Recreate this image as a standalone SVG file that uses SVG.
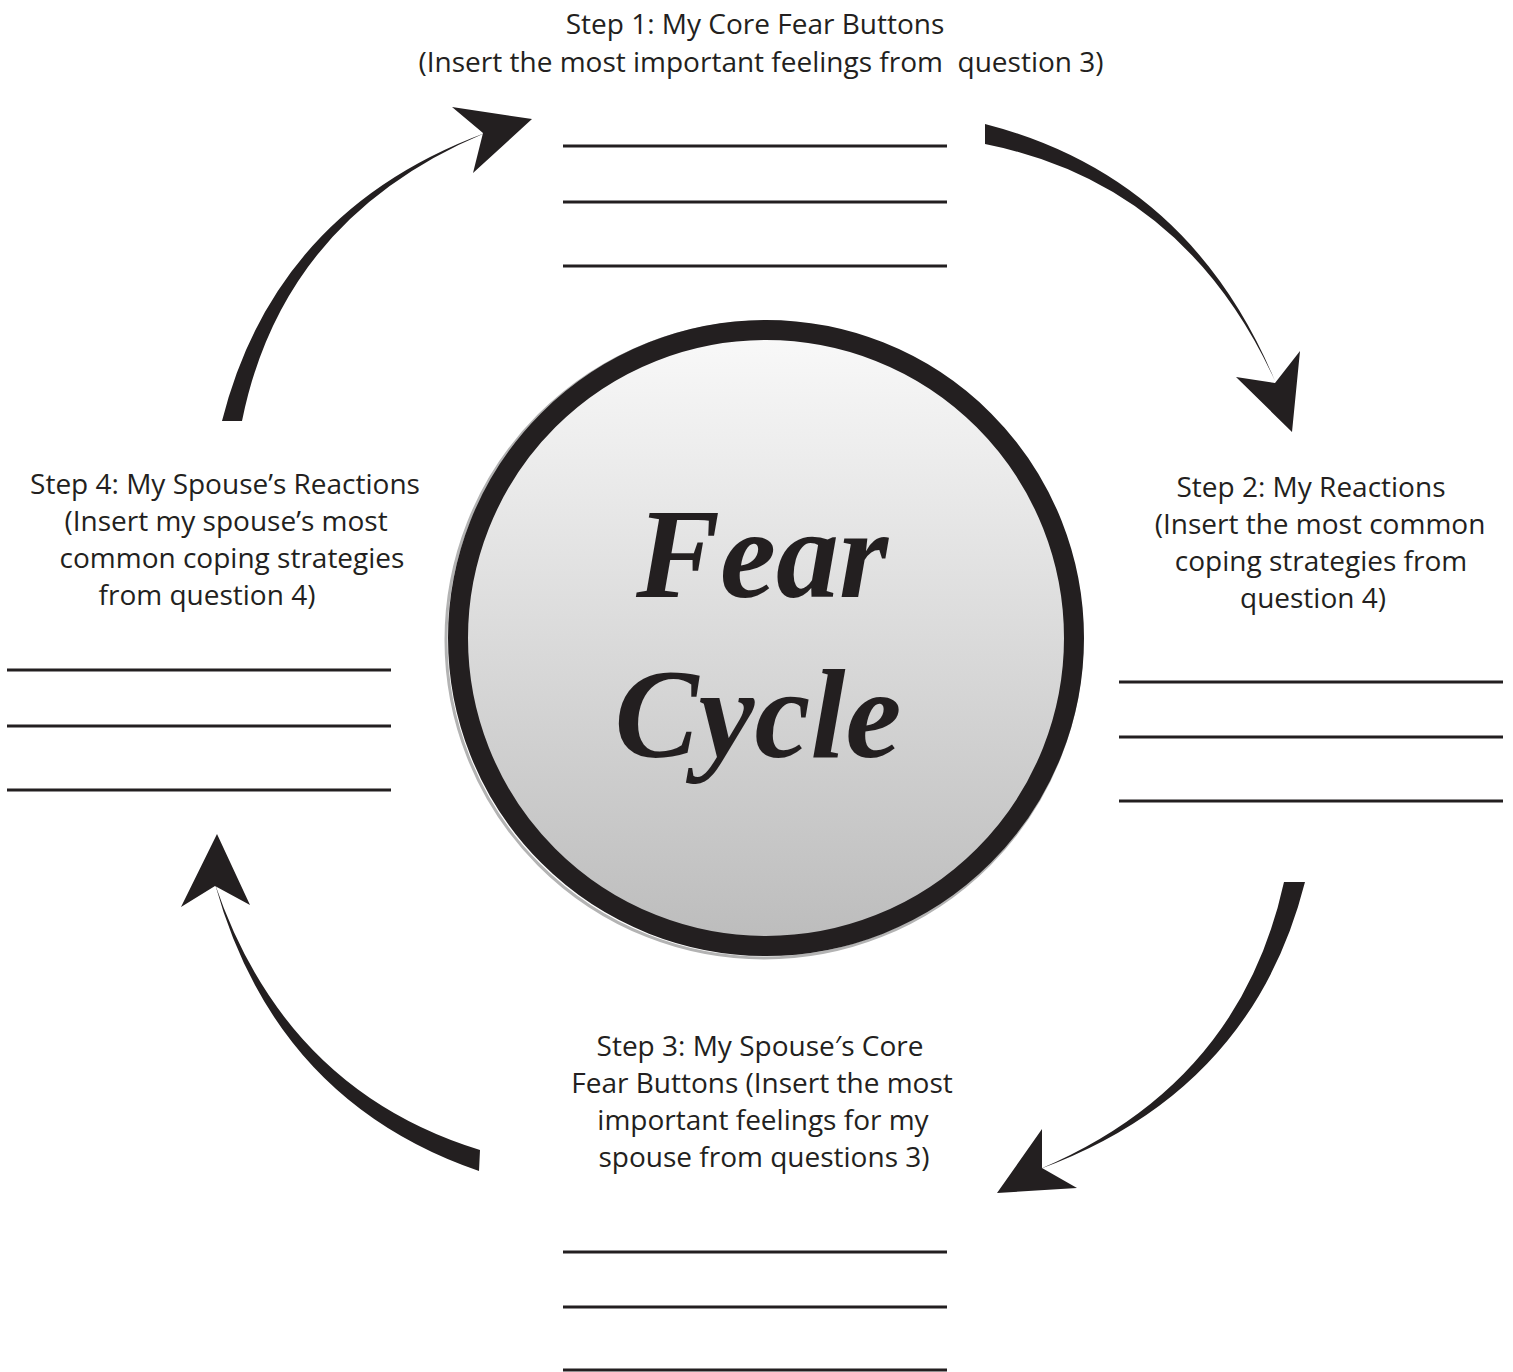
<svg xmlns="http://www.w3.org/2000/svg" width="1513" height="1372" viewBox="0 0 1513 1372">
<style>
.lbl{font-family:"Open Sans","Noto Sans","Liberation Sans",sans-serif;font-size:28px;fill:#231f20;text-anchor:middle}
.ln{stroke:#231f20;stroke-width:3;fill:none}
.arr{fill:#231f20;stroke:none}
.title{font-family:"Liberation Serif","DejaVu Serif",serif;font-style:italic;font-weight:bold;font-size:126px;fill:#231f20;text-anchor:middle}
</style>
<defs>
<linearGradient id="g" x1="0" y1="0" x2="0" y2="1">
<stop offset="0" stop-color="#f9f9f9"/>
<stop offset="1" stop-color="#bcbcbc"/>
</linearGradient>
</defs>
<rect width="1513" height="1372" fill="#ffffff"/>
<g id="center">
<circle cx="764" cy="640" r="318" fill="none" stroke="#b3b3b3" stroke-width="3"/>
<circle cx="766" cy="638" r="308" fill="url(#g)" stroke="#231f20" stroke-width="20"/>
<text class="title" x="762" y="597">Fear</text>
<text class="title" x="758" y="757">Cycle</text>
</g>
<g id="step1">
<text class="lbl" x="755" y="34">Step 1: My Core Fear Buttons</text>
<text class="lbl" x="761" y="72" xml:space="preserve">(Insert the most important feelings from  question 3)</text>
<line class="ln" x1="563" y1="146" x2="947" y2="146"/>
<line class="ln" x1="563" y1="202" x2="947" y2="202"/>
<line class="ln" x1="563" y1="266" x2="947" y2="266"/>
</g>
<g id="step2">
<text class="lbl" x="1311" y="497">Step 2: My Reactions</text>
<text class="lbl" x="1320" y="534">(Insert the most common</text>
<text class="lbl" x="1321" y="571">coping strategies from</text>
<text class="lbl" x="1313" y="608">question 4)</text>
<line class="ln" x1="1119" y1="682" x2="1503" y2="682"/>
<line class="ln" x1="1119" y1="737" x2="1503" y2="737"/>
<line class="ln" x1="1119" y1="801" x2="1503" y2="801"/>
</g>
<g id="step3">
<text class="lbl" x="760" y="1056">Step 3: My Spouse′s Core</text>
<text class="lbl" x="762" y="1093">Fear Buttons (Insert the most</text>
<text class="lbl" x="763" y="1130">important feelings for my</text>
<text class="lbl" x="764" y="1167">spouse from questions 3)</text>
<line class="ln" x1="563" y1="1252" x2="947" y2="1252"/>
<line class="ln" x1="563" y1="1307" x2="947" y2="1307"/>
<line class="ln" x1="563" y1="1370" x2="947" y2="1370"/>
</g>
<g id="step4">
<text class="lbl" x="225" y="494">Step 4: My Spouse’s Reactions</text>
<text class="lbl" x="226" y="531">(Insert my spouse’s most</text>
<text class="lbl" x="232" y="568">common coping strategies</text>
<text class="lbl" x="207" y="605">from question 4)</text>
<line class="ln" x1="7" y1="670" x2="391" y2="670"/>
<line class="ln" x1="7" y1="726" x2="391" y2="726"/>
<line class="ln" x1="7" y1="790" x2="391" y2="790"/>
</g>
<g id="connectors">
<path class="arr" d="M985,124 Q1190,177 1275,381 Q1185,184 985,144 Z"/>
<polygon class="arr" points="1236,377 1275,383 1300,351 1292,432"/>
<path class="arr" d="M1305,882 Q1252,1091 1040,1169 Q1240,1084 1284,882 Z"/>
<polygon class="arr" points="1042,1129 1042,1168 1077,1188 997,1193"/>
<path class="arr" d="M479,1171 Q275,1101 215,884 Q285,1090 480,1150 Z"/>
<polygon class="arr" points="217,834 250,905 215,886 181,907"/>
<path class="arr" d="M222,421 Q275,211 485,133 Q283,218 242,421 Z"/>
<polygon class="arr" points="452,107 532,119 473,173 483,133"/>
</g>
</svg>
